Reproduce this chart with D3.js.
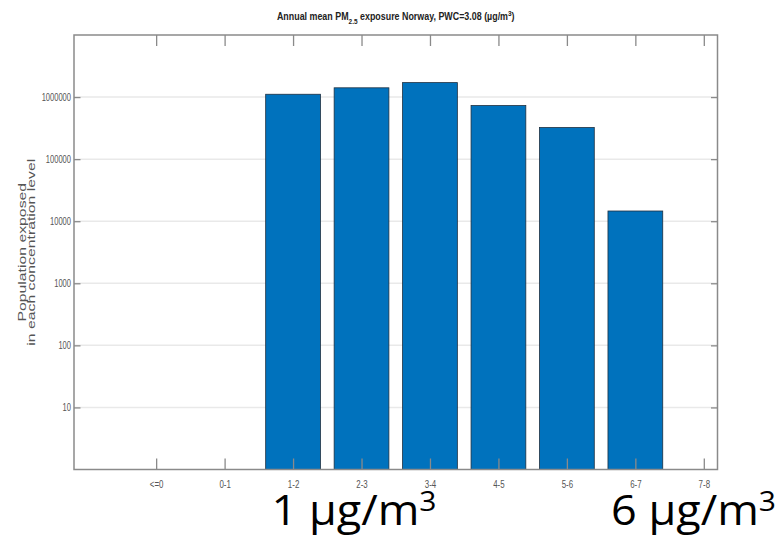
<!DOCTYPE html>
<html>
<head>
<meta charset="utf-8">
<script src="https://cdn.jsdelivr.net/npm/d3@7"></script>
<style>
  html, body { margin: 0; padding: 0; background: #fff; }
  svg { display: block; }
</style>
</head>
<body>
<svg id="chart" width="780" height="537"></svg>
<script>
// ---- data ----
const categories = ["<=0", "0-1", "1-2", "2-3", "3-4", "4-5", "5-6", "6-7", "7-8"];
const population = [null, null, 1110000, 1410000, 1710000, 730000, 323000, 14600, null];
const yTickValues = [10, 100, 1000, 10000, 100000, 1000000];
const yTickLabels = ["10", "100", "1000", "10000", "100000", "1000000"];
const titleParts = ["Annual mean PM", "2.5", " exposure Norway, PWC=3.08 (\u00B5g/m", "3", ")"];
const yLabelLines = ["Population exposed", "in each concentration level"];
const annotations = [
  { text: "1 \u00B5g/m", sup: "3" },
  { text: "6 \u00B5g/m", sup: "3" }
];

(function () {
// ---- layout ----
const svg = d3.select("#chart");
const pLeft = 74, pRight = 717.5, pTop = 35, pBottom = 469.5;
const sx = 0.72; // horizontal squish of text
const axisColor = "#8a8a8a";
const textColor = "#555";

const x = d3.scaleLinear().domain([-0.2, 9.2]).range([pLeft, pRight]);
const y = d3.scaleLog().domain([1, 1e7]).range([pBottom, pTop]);
const pos = categories.map((c, i) => i + 1);
const barW = 0.8;

// gridlines
svg.append("g").selectAll("line").data(yTickValues).join("line")
  .attr("x1", pLeft).attr("x2", pRight)
  .attr("y1", d => y(d)).attr("y2", d => y(d))
  .attr("stroke", "#e9e9e9").attr("stroke-width", 1.5);

// bars
const barData = categories.map((c, i) => ({ c, p: pos[i], v: population[i] })).filter(d => d.v != null);
svg.append("g").selectAll("rect").data(barData).join("rect")
  .attr("x", d => x(d.p - barW / 2))
  .attr("width", d => x(d.p + barW / 2) - x(d.p - barW / 2))
  .attr("y", d => y(d.v))
  .attr("height", d => y(1) - y(d.v))
  .attr("fill", "#0072BD")
  .attr("stroke", "#1d2f40").attr("stroke-width", 0.8);

// box
svg.append("rect").attr("x", pLeft).attr("y", pTop).attr("width", pRight - pLeft).attr("height", pBottom - pTop)
  .attr("fill", "none").attr("stroke", axisColor).attr("stroke-width", 1.5);

// x ticks (bottom inward, top inward)
const xAxisB = d3.axisBottom(x).tickValues(pos).tickFormat((d, i) => categories[i]).tickSize(-11).tickPadding(8);
const gxb = svg.append("g").attr("transform", `translate(0,${pBottom})`).call(xAxisB);
const xAxisT = d3.axisTop(x).tickValues(pos).tickFormat("").tickSize(-11);
const gxt = svg.append("g").attr("transform", `translate(0,${pTop})`).call(xAxisT);
[gxb, gxt].forEach(g => {
  g.select(".domain").remove();
  g.selectAll(".tick line").attr("stroke", axisColor).attr("stroke-width", 1.3);
});
gxb.selectAll(".tick text")
  .attr("font-family", "Liberation Sans, Arial, sans-serif").attr("font-size", 11)
  .attr("fill", textColor).attr("y", 11).attr("dy", "0.71em")
  .attr("transform", `scale(${sx},1)`);

// y ticks (left inward, right inward)
const yAxisL = d3.axisLeft(y).tickValues(yTickValues).tickFormat((d, i) => yTickLabels[i]).tickSize(-6.5).tickPadding(3);
const gyl = svg.append("g").attr("transform", `translate(${pLeft},0)`).call(yAxisL);
const yAxisR = d3.axisRight(y).tickValues(yTickValues).tickFormat("").tickSize(-6.5);
const gyr = svg.append("g").attr("transform", `translate(${pRight},0)`).call(yAxisR);
[gyl, gyr].forEach(g => {
  g.select(".domain").remove();
  g.selectAll(".tick line").attr("stroke", axisColor).attr("stroke-width", 1.3);
});
gyl.selectAll(".tick text")
  .attr("font-family", "Liberation Sans, Arial, sans-serif").attr("font-size", 10.5)
  .attr("fill", textColor).attr("x", -3 / sx)
  .attr("transform", `scale(${sx},1)`);

// title
const tg = svg.append("g");
const tt = tg.append("text")
  .attr("font-family", "Liberation Sans, Arial, sans-serif").attr("font-size", 11).attr("font-weight", "bold")
  .attr("fill", "#222").attr("text-anchor", "middle");
tt.append("tspan").text(titleParts[0]);
tt.append("tspan").attr("font-size", 8).attr("dy", 4).text(titleParts[1]);
tt.append("tspan").attr("dy", -4).text(titleParts[2]);
tt.append("tspan").attr("font-size", 8).attr("dy", -4).text(titleParts[3]);
tt.append("tspan").attr("dy", 4).text(titleParts[4]);
const tw = tt.node().getBBox().width;
tg.attr("transform", `translate(${(pLeft + pRight) / 2},20) scale(${238 / tw},1)`);

// y label
const yl = svg.append("g");
const ylt = yl.append("text")
  .attr("font-family", "Liberation Sans, Arial, sans-serif").attr("font-size", 14)
  .attr("fill", textColor).attr("text-anchor", "middle");
ylt.selectAll("tspan").data(yLabelLines).join("tspan")
  .attr("x", 0).attr("dy", (d, i) => i === 0 ? 0 : 14.5).text(d => d);
const l2 = ylt.selectAll("tspan").nodes()[1].getComputedTextLength();
const fs = 14 * 187 / l2;
ylt.attr("font-size", fs);
ylt.selectAll("tspan").attr("dy", (d, i) => i === 0 ? 0 : 10 / 0.68);
yl.attr("transform", `translate(25.5,${(pTop + pBottom) / 2}) scale(0.68,1) rotate(-90)`);

// annotations
const ann = svg.append("g");
const annX = [436.5, 776];
const annTexts = ann.selectAll("text").data(annotations).join("text")
  .attr("font-family", "Open Sans, Noto Sans, sans-serif").attr("font-size", 42)
  .attr("fill", "#000").attr("text-anchor", "end")
  .attr("x", 0).attr("y", 0);
annTexts.append("tspan").text(d => d.text);
annTexts.append("tspan").attr("font-size", 28).attr("dy", -14).text(d => d.sup);
const aw = annTexts.nodes()[1].getBBox().width;
const asx = 165 / aw;
annTexts.attr("transform", (d, i) => `translate(${annX[i]},524.5) scale(${asx},1)`);
})();
</script>
</body>
</html>
